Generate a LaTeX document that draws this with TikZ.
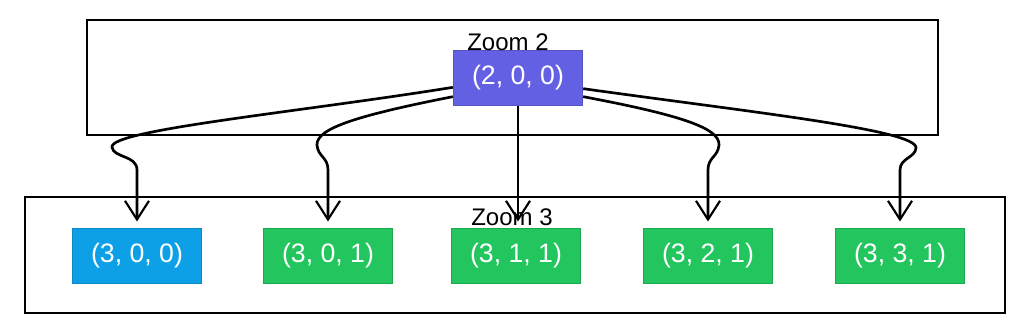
\documentclass[tikz,border=0pt]{standalone}
\usepackage{fontspec}
\setmainfont{Liberation Sans}
\definecolor{ZoomViolet}{RGB}{100,96,228}
\definecolor{ZoomBlue}{RGB}{14,160,230}
\definecolor{ZoomGreen}{RGB}{34,197,94}
\usetikzlibrary{positioning, arrows.meta, calc}

\tikzset{
  frame/.style={draw=black, line width=1.8pt},
  tile/.style={draw=#1!85!black, fill=#1, line width=0.8pt, text=white,
    minimum width=97pt, minimum height=41pt, inner sep=0pt,
    font=\fontsize{20}{22}\selectfont},
  zoomlabel/.style={font=\fontsize{18}{20}\selectfont, inner sep=0pt},
  link/.style={draw=black, line width=2pt, line join=round,
    -{Straight Barb[length=14pt, width=18pt, line width=1.6pt]}}
}

\begin{document}
\begin{tikzpicture}[x=0.75pt, y=-0.75pt]
\useasboundingbox (0,0) rectangle (1024,327);

% zoom levels
\draw[frame] (87,20) rectangle (938,135);
\draw[frame] (25,197) rectangle (1005,313);

% parent tile
\node[tile=ZoomViolet] (top) at (518,78) {(2, 0, 0)};
\node[zoomlabel, anchor=south] (zoom2) at (508,51) {Zoom 2};

% children
\node[tile=ZoomBlue]  (n1) at (137,256) {(3, 0, 0)};
\node[tile=ZoomGreen] (n2) at (328,256) {(3, 0, 1)};
\node[tile=ZoomGreen] (n3) at (516,256) {(3, 1, 1)};
\node[tile=ZoomGreen] (n4) at (708,256) {(3, 2, 1)};
\node[tile=ZoomGreen] (n5) at (900,256) {(3, 3, 1)};
\node[zoomlabel] (zoom3) at (512,217) {Zoom 3};

% links
\draw[link] ([yshift=-7pt]top.west) .. controls (300,112) and (110,130) .. (112,147)
  .. controls (113,158) and (137,155) .. (137,170) -- ([yshift=5pt]n1.north);
\draw[link] ([yshift=-14pt]top.west) .. controls (360,115) and (316,128) .. (317,145)
  .. controls (318,157) and (328,157) .. (328,170) -- ([yshift=5pt]n2.north);
\draw[link] (top.south) -- ([yshift=5pt]top.south |- n3.north);
\draw[link] ([yshift=-14pt]top.east) .. controls (680,115) and (720,128) .. (719,145)
  .. controls (718,157) and (708,157) .. (708,170) -- ([yshift=5pt]n4.north);
\draw[link] ([yshift=-8pt]top.east) .. controls (750,112) and (918,130) .. (916,148)
  .. controls (915,158) and (900,158) .. (900,170) -- ([yshift=5pt]n5.north);
\end{tikzpicture}
\end{document}
